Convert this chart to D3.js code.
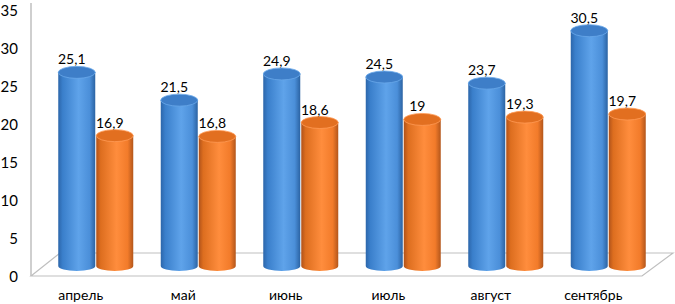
<!DOCTYPE html>
<html>
<head>
<meta charset="utf-8">
<script src="https://cdn.jsdelivr.net/npm/d3@7/dist/d3.min.js"></script>
<style>
  body { margin: 0; background: #fff; }
  text { font-family: Lato, "Open Sans", sans-serif; fill: #000; }
</style>
</head>
<body>
<div id="chart"></div>
<script>
// data
var months = ["апрель", "май", "июнь", "июль", "август", "сентябрь"];
var seriesKeys = ["s1", "s2"];
var s1 = [25.1, 21.5, 24.9, 24.5, 23.7, 30.5];
var s2 = [16.9, 16.8, 18.6, 19, 19.3, 19.7];
var yTicks = [0, 5, 10, 15, 20, 25, 30, 35];

var width = 675, height = 304;

var svg = d3.select("#chart").append("svg")
    .attr("width", width)
    .attr("height", height);

// scales
var x = d3.scaleBand().domain(months).range([44.5, 659.5]).padding(0);
var xs = d3.scaleBand().domain(seriesKeys).range([-38, 38]).padding(0);
var yBar = d3.scaleLinear().domain([0, 35]).range([266, -4]);
var yAxisScale = d3.scaleLinear().domain([0, 35]).range([277, 11]);

// gradients for the cylinders
var defs = svg.append("defs");
function grad(id, stops) {
  var g = defs.append("linearGradient").attr("id", id)
      .attr("x1", "0%").attr("x2", "100%").attr("y1", "0%").attr("y2", "0%");
  stops.forEach(function(s) {
    g.append("stop").attr("offset", s[0]).attr("stop-color", s[1]);
  });
}
grad("g1", [["0%", "#2c66aa"], ["12%", "#3a7fcb"], ["55%", "#5fa3ea"], ["85%", "#4b8fd9"], ["100%", "#2b63a3"]]);
grad("g2", [["0%", "#b0521a"], ["12%", "#dd6e1f"], ["55%", "#ff8d3d"], ["85%", "#f27b2a"], ["100%", "#b3561b"]]);
var topFill = { s1: "#3e7ec8", s2: "#e26f20" };
var topStroke = { s1: "#6aa8ea", s2: "#ff9a55" };

// side wall edge and floor
var gridColor = "#bfbfbf";
svg.append("path")
    .attr("d", "M31,276 L60,253 L673,253 L642,276 Z")
    .attr("fill", "#fff")
    .attr("stroke", gridColor)
    .attr("stroke-width", 1.2);
svg.append("line")
    .attr("x1", 31).attr("x2", 31).attr("y1", 3).attr("y2", 276)
    .attr("stroke", gridColor).attr("stroke-width", 1.5);

// y axis labels
var yAxis = svg.append("g")
    .attr("transform", "translate(31,0)")
    .call(d3.axisLeft(yAxisScale).tickValues(yTicks).tickSize(0).tickPadding(13));
yAxis.select(".domain").remove();
yAxis.selectAll("text")
    .style("font-family", "Lato, 'Open Sans', sans-serif")
    .style("font-size", "15px")
    .attr("fill", "#000");

// bars
var rows = months.map(function(m, i) { return { month: m, s1: s1[i], s2: s2[i] }; });
var rx = xs.bandwidth() / 2 - 0.5;
var ryTop = 6, ryBot = 5;

var groups = svg.selectAll(".grp")
    .data(rows)
  .enter().append("g")
    .attr("class", "grp")
    .attr("transform", function(d) { return "translate(" + (x(d.month) + x.bandwidth() / 2) + ",0)"; });

var bars = groups.selectAll(".cyl")
    .data(function(d) { return seriesKeys.map(function(k) { return { key: k, value: d[k] }; }); })
  .enter().append("g")
    .attr("class", "cyl");

bars.append("path")
    .attr("d", function(d) {
      var cx = xs(d.key) + xs.bandwidth() / 2;
      var top = yBar(d.value), bot = yBar(0);
      return "M" + (cx - rx) + "," + top +
        " L" + (cx - rx) + "," + bot +
        " A" + rx + "," + ryBot + " 0 0 0 " + (cx + rx) + "," + bot +
        " L" + (cx + rx) + "," + top + " Z";
    })
    .attr("fill", function(d) { return d.key === "s1" ? "url(#g1)" : "url(#g2)"; });

bars.append("ellipse")
    .attr("cx", function(d) { return xs(d.key) + xs.bandwidth() / 2; })
    .attr("cy", function(d) { return yBar(d.value); })
    .attr("rx", rx)
    .attr("ry", ryTop)
    .attr("fill", function(d) { return topFill[d.key]; })
    .attr("stroke", function(d) { return topStroke[d.key]; })
    .attr("stroke-width", 0.8);

bars.append("text")
    .attr("x", function(d) { return xs(d.key) + xs.bandwidth() / 2 - 5; })
    .attr("y", function(d) { return yBar(d.value) - 8; })
    .attr("text-anchor", "middle")
    .style("font-size", "14px")
    .text(function(d) { return String(d.value).replace(".", ","); });

// category labels
svg.selectAll(".cat")
    .data(months)
  .enter().append("text")
    .attr("class", "cat")
    .attr("x", function(d) { return x(d) + x.bandwidth() / 2 - 15; })
    .attr("y", 300)
    .attr("text-anchor", "middle")
    .style("font-size", "14px")
    .text(function(d) { return d; });
</script>
</body>
</html>
